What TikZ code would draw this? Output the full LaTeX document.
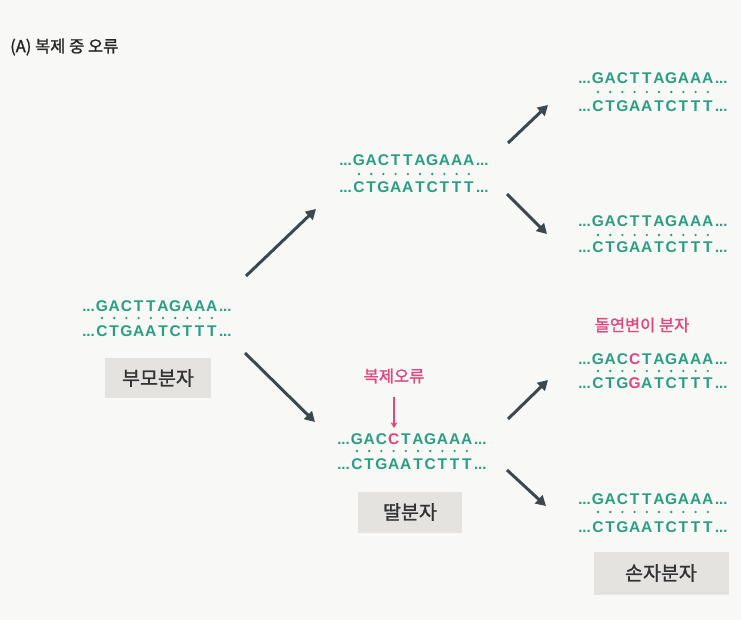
\documentclass[tikz,border=0pt]{standalone}
\usepackage{fontspec}
\newfontfamily\cjk{Noto Sans CJK KR}[FakeBold=1.3]
\newfontfamily\dnafont{Liberation Sans}
\usetikzlibrary{arrows.meta}
\definecolor{dnateal}{HTML}{2A9E82}
\definecolor{mpink}{HTML}{E2467E}
\definecolor{boxgray}{HTML}{E4E3E0}
\definecolor{arrowgray}{HTML}{3D484E}
\definecolor{bggray}{HTML}{F8F8F6}
\tikzset{
  letter/.style={font=\dnafont\bfseries\fontsize{15.5}{15.5}\selectfont, text=dnateal, inner sep=0pt, anchor=base},
  ellip/.style={font=\dnafont\bfseries\fontsize{15}{15}\selectfont, text=dnateal, inner sep=0pt, anchor=base},
  bond/.style={circle, fill=dnateal, inner sep=0pt, minimum size=2.6pt},
  labelbox/.style={fill=boxgray, font=\cjk\fontsize{19.5}{19.5}\selectfont, text=black!80, inner sep=0pt},
  pinklabel/.style={font=\cjk\fontsize{16.5}{16.5}\selectfont, text=mpink, inner sep=0pt},
  bigarrow/.style={draw=arrowgray, line width=3pt, -{Triangle[length=10pt,width=11pt]}},
  pinkarrow/.style={draw=mpink, line width=1.3pt, -{Straight Barb[length=4pt,width=5pt]}},
}
% #1 prefix, #2 x of first letter, #3 baseline top, #4 dots y, #5 baseline bottom, #6 top letters, #7 bottom letters
\newcommand{\myduplex}[7]{%
  \foreach \l [count=\i] in {#6} {\node[letter] (#1t\i) at ({#2+(\i-1)*12.2}, #3) {\l};}
  \foreach \l [count=\i] in {#7} {\node[letter] (#1b\i) at ({#2+(\i-1)*12.2}, #5) {\l};}
  \foreach \i in {1,...,10} {\node[bond] (#1d\i) at ({#2+(\i-1)*12.2}, #4) {};}
  \node[ellip, anchor=base east] (#1lt) at ({#2-7}, #3) {...};
  \node[ellip, anchor=base west] (#1rt) at ({#2+9*12.2+7}, #3) {...};
  \node[ellip, anchor=base east] (#1lb) at ({#2-7}, #5) {...};
  \node[ellip, anchor=base west] (#1rb) at ({#2+9*12.2+7}, #5) {...};
}
\begin{document}
\begin{tikzpicture}[x=1pt,y=-1pt]
\fill[bggray] (0,0) rectangle (741,620);
\useasboundingbox (0,0) rectangle (741,620);

\node[font=\cjk\fontsize{16.5}{16.5}\selectfont, anchor=west, inner sep=0pt, text=black!85] (title) at (10,47) {(A) 복제 중 오류};

% parent
\myduplex{p}{102}{311}{318}{336}{G,A,C,T,T,A,G,A,A,A}{C,T,G,A,A,T,C,T,T,T}
\node[labelbox, minimum width=106pt, minimum height=40pt] (pbox) at (158,378) {부모분자};

% daughter 1
\myduplex{da}{359}{166}{174}{193}{G,A,C,T,T,A,G,A,A,A}{C,T,G,A,A,T,C,T,T,T}
% daughter 2
\myduplex{db}{357}{444}{451}{469}{G,A,C,{\textcolor{mpink}{C}},T,A,G,A,A,A}{C,T,G,A,A,T,C,T,T,T}
\node[pinklabel] (errlabel) at (394,376) {복제오류};
\coordinate (errs) at (394,397);
\coordinate (erre) at (394,428);
\draw[pinkarrow] (errs) -- (erre);
\node[labelbox, minimum width=104pt, minimum height=41pt] (dbox) at (410,512) {딸분자};

% grandchildren
\myduplex{ga}{598}{84}{92}{112}{G,A,C,T,T,A,G,A,A,A}{C,T,G,A,A,T,C,T,T,T}
\myduplex{gb}{598}{227}{235}{253}{G,A,C,T,T,A,G,A,A,A}{C,T,G,A,A,T,C,T,T,T}
\node[pinklabel] (mutlabel) at (642,325) {돌연변이 분자};
\myduplex{gc}{598}{364}{371}{388}{G,A,C,{\textcolor{mpink}{C}},T,A,G,A,A,A}{C,T,G,{\textcolor{mpink}{G}},A,T,C,T,T,T}
\myduplex{gd}{598}{504}{512}{532}{G,A,C,T,T,A,G,A,A,A}{C,T,G,A,A,T,C,T,T,T}
\node[labelbox, minimum width=135pt, minimum height=43pt] (gbox) at (661,573) {손자분자};

% arrows
\coordinate (a1s) at (246,276); \coordinate (a1e) at (316,209);
\coordinate (a2s) at (245,353); \coordinate (a2e) at (315,422);
\coordinate (a3s) at (508,143); \coordinate (a3e) at (548,105);
\coordinate (a4s) at (507,194); \coordinate (a4e) at (547,234);
\coordinate (a5s) at (508,419); \coordinate (a5e) at (548,380);
\coordinate (a6s) at (507,470); \coordinate (a6e) at (546,506);
\foreach \n in {1,...,6} {\draw[bigarrow] (a\n s) -- (a\n e);}
\end{tikzpicture}
\end{document}
